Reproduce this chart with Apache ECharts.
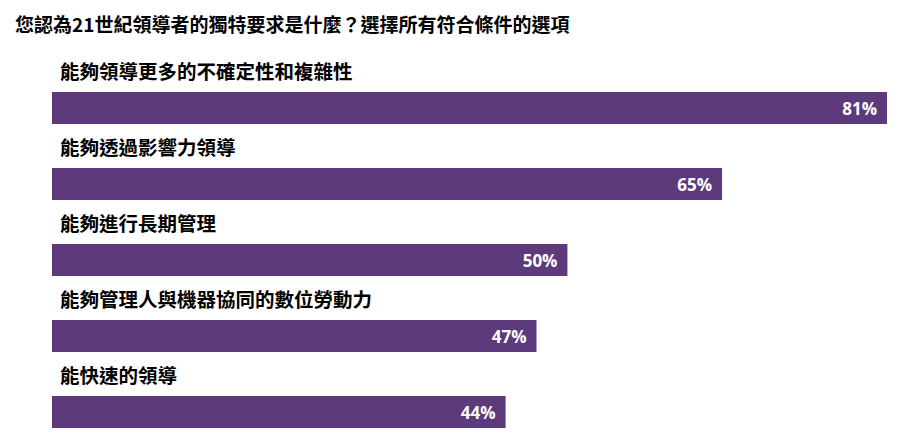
<!DOCTYPE html>
<html>
<head>
<meta charset="utf-8">
<script src="https://cdn.jsdelivr.net/npm/echarts@6/dist/echarts.min.js"></script>
<style>
  html, body { margin: 0; padding: 0; background: #fff; overflow: hidden; }
  #chartsDiv { width: 900px; height: 470px; }
</style>
</head>
<body>
<div id="chartsDiv"></div>
<script>
var titleText = '您認為21世紀領導者的獨特要求是什麼？選擇所有符合條件的選項'
var categories = [
  '能夠領導更多的不確定性和複雜性',
  '能夠透過影響力領導',
  '能夠進行長期管理',
  '能夠管理人與機器協同的數位勞動力',
  '能快速的領導'
]
var percentValues = [81, 65, 50, 47, 44]

var cjkFont = '"Noto Sans CJK TC", "Noto Sans", sans-serif'

var realChart = echarts.init(document.getElementById('chartsDiv'), null, {
  renderer: 'svg'
})

// 圖表高度比視窗高，讓每列間距與原圖一致（最後一列貼近底邊）
var option = {
  animation: false,
  title: {
    text: titleText,
    left: 10,
    top: 9,
    textStyle: {
      color: '#000',
      fontFamily: cjkFont,
      fontSize: 19,
      fontWeight: 'bold'
    }
  },
  grid: {
    left: 52,
    top: 70,
    width: 835,
    height: 380
  },
  xAxis: {
    type: 'value',
    min: 0,
    max: 81,
    show: false
  },
  yAxis: {
    type: 'category',
    inverse: true,
    data: categories,
    axisLine: { show: false },
    axisTick: { show: false },
    splitLine: { show: false },
    axisLabel: {
      inside: true,
      margin: 8,
      align: 'left',
      verticalAlign: 'bottom',
      padding: [0, 0, 28, 0],
      color: '#000',
      fontFamily: cjkFont,
      fontSize: 19.5,
      fontWeight: 'bold'
    },
    z: 10
  },
  series: [
    {
      type: 'bar',
      data: percentValues,
      barWidth: 32,
      itemStyle: {
        color: '#5d3a7b'
      },
      label: {
        show: true,
        position: 'insideRight',
        distance: 10,
        formatter: '{c}%',
        color: '#fff',
        fontFamily: '"Open Sans", sans-serif',
        fontSize: 17,
        fontWeight: 'bold'
      }
    }
  ]
}

realChart.setOption(option)
</script>
</body>
</html>
